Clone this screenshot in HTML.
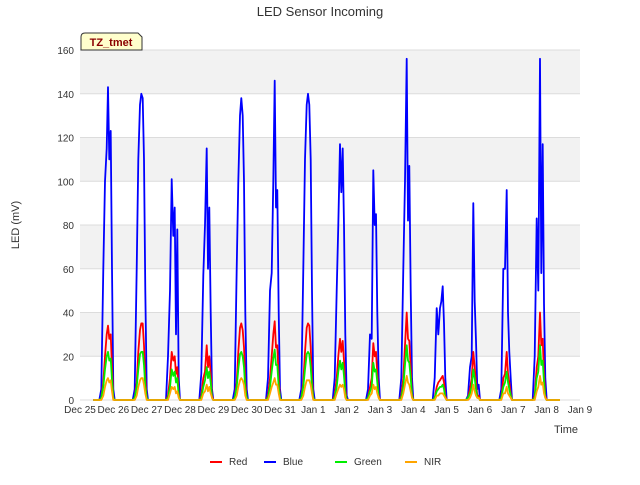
<!DOCTYPE html>
<html><head><meta charset="utf-8"><style>
body{margin:0;background:#fff;font-family:"Liberation Sans",sans-serif}
</style></head><body>
<svg id="c" width="640" height="480" viewBox="0 0 640 480" xmlns="http://www.w3.org/2000/svg" font-family="Liberation Sans, sans-serif">
<text x="320" y="16" text-anchor="middle" font-size="13" fill="#333">LED Sensor Incoming</text>
<text transform="translate(19,225) rotate(-90)" text-anchor="middle" font-size="11" fill="#333">LED (mV)</text>
<text x="566" y="433" text-anchor="middle" font-size="11" fill="#333">Time</text>
<g id="bands"></g><g id="grid"></g><g id="ticks"></g><g id="series"></g>
<g>
<path d="M81,50 L81,37 Q81,33 85,33 L138,33 L142,37 L142,50 Z" fill="#ffffcc" stroke="#333" stroke-width="1"/>
<text x="111" y="46" text-anchor="middle" font-size="11" font-weight="bold" fill="#8b0000">TZ_tmet</text>
</g>
<g id="legend"></g>
</svg>
<script>
const dayLabels=["Dec 25","Dec 26","Dec 27","Dec 28","Dec 29","Dec 30","Dec 31","Jan 1","Jan 2","Jan 3","Jan 4","Jan 5","Jan 6","Jan 7","Jan 8","Jan 9"];
const yTicks=[0,20,40,60,80,100,120,140,160];
const offsets=[0.58,0.64,0.70,0.75,0.80,0.84,0.88,0.92,0.96,1.00,1.04];
const blue=[[0,5,60,100,115,143,110,123,60,5,0],[0,5,60,110,135,140,138,110,50,5,0],[0,20,50,101,75,88,30,78,10,0,0],[0,12,57,80,115,60,88,40,5,0,0],[0,5,60,100,130,138,130,100,40,5,0],[0,10,50,58,100,146,88,96,40,5,0],[0,5,60,110,135,140,135,110,50,5,0],[0,10,50,80,117,95,115,80,30,2,0],[0,5,30,28,105,80,85,40,10,0,0],[0,10,60,100,156,82,107,50,10,0,0],[0,10,42,30,42,45,52,35,10,0,0],[0,2,15,20,90,45,27,5,7,0,0],[0,5,60,60,96,40,22,10,0,0,0],[0,20,83,50,156,58,117,44,10,0,0]];
const red=[[0,1,8,20,30,34,28,30,15,1,0],[0,1,8,22,32,35,35,25,10,1,0],[0,2,10,22,18,20,12,15,3,0,0],[0,2,10,13,25,15,20,12,2,0,0],[0,1,8,22,33,35,32,24,8,1,0],[0,2,10,20,30,36,24,25,10,1,0],[0,1,8,22,33,35,34,24,10,1,0],[0,2,10,20,28,22,27,18,5,0,0],[0,1,6,10,26,20,22,12,2,0,0],[0,2,10,25,40,28,27,15,3,0,0],[0,1,6,8,9,10,11,8,2,0,0],[0,1,5,10,22,15,8,2,2,0,0],[0,1,10,12,22,12,8,3,0,0,0],[0,2,15,20,40,25,28,12,2,0,0]];
const green=[[0,1,6,14,20,22,18,19,9,1,0],[0,1,6,14,21,22,22,16,6,1,0],[0,1,6,14,11,13,8,10,2,0,0],[0,1,6,9,15,10,13,8,1,0,0],[0,1,6,14,21,22,20,15,5,1,0],[0,1,6,13,19,23,16,16,6,1,0],[0,1,6,14,21,22,21,15,6,1,0],[0,1,6,13,18,14,17,11,3,0,0],[0,1,4,6,17,13,14,8,1,0,0],[0,1,6,16,25,18,17,10,2,0,0],[0,1,4,5,6,6,7,5,1,0,0],[0,1,3,6,14,10,5,1,1,0,0],[0,1,6,8,13,8,5,2,0,0,0],[0,1,10,13,25,16,18,8,1,0,0]];
const nir=[[0,0,2,6,9,10,8,9,4,0,0],[0,0,2,6,9,10,10,7,3,0,0],[0,0,3,6,5,6,3,4,1,0,0],[0,0,3,4,7,4,6,3,1,0,0],[0,0,2,6,9,10,9,7,2,0,0],[0,0,3,6,8,10,7,7,3,0,0],[0,0,2,6,9,9,9,7,3,0,0],[0,0,3,5,7,6,7,5,1,0,0],[0,0,2,3,7,5,6,3,1,0,0],[0,0,3,7,11,8,7,4,1,0,0],[0,0,2,2,3,3,3,2,1,0,0],[0,0,1,3,7,4,2,1,1,0,0],[0,0,3,3,6,3,2,1,0,0,0],[0,0,4,6,11,7,8,3,1,0,0]];
const NS="http://www.w3.org/2000/svg";
const X0=80,X1=580,Y0=400,Y1=50;
const xs=t=>X0+(X1-X0)*t/15;
const ys=v=>Y0-(Y0-Y1)*v/160;
function mk(tag,attrs,parent){const e=document.createElementNS(NS,tag);for(const k in attrs)e.setAttribute(k,attrs[k]);document.getElementById(parent).appendChild(e);return e;}
for(let i=0;i<yTicks.length-1;i++){if(i%2===1){const r=mk('rect',{x:X0,y:ys(yTicks[i+1]),width:X1-X0,height:ys(yTicks[i])-ys(yTicks[i+1]),fill:'#f2f2f2'},'bands');

}}
yTicks.forEach(v=>{const l=mk('line',{x1:X0,x2:X1,y1:ys(v),y2:ys(v),stroke:'#dcdcdc','stroke-width':1},'grid');


const t=mk('text',{x:X0-6,y:ys(v)+4,'text-anchor':'end','font-size':10,fill:'#333'},'ticks');t.textContent=v;

});
dayLabels.forEach((d,i)=>{const t=mk('text',{x:xs(i),y:413,'text-anchor':'middle','font-size':10,fill:'#333'},'ticks');t.textContent=d;

});
function series(data,color,name){let pts=[[xs(0.4),ys(0)]];
data.forEach((row,k)=>row.forEach((v,j)=>pts.push([xs(k+offsets[j]),ys(v)])));
pts.push([xs(14.4),ys(0)]);
const p=mk('polyline',{points:pts.map(p=>p[0].toFixed(1)+','+p[1].toFixed(1)).join(' '),fill:'none',stroke:color,'stroke-width':1.8,'stroke-linejoin':'round'},'series');

}
series(blue,'#0000ff','blue-line');series(red,'#ff0000','red-line');series(green,'#00ee00','green-line');series(nir,'#ffa500','nir-line');
[['Red','#ff0000',210],['Blue','#0000ff',264],['Green','#00ee00',335],['NIR','#ffa500',405]].forEach(([n,c,x])=>{
const l=mk('line',{x1:x,x2:x+12,y1:462,y2:462,stroke:c,'stroke-width':2},'legend');


const t=mk('text',{x:x+19,y:465,'font-size':10,fill:'#333'},'legend');t.textContent=n;

});
</script>
</body></html>
